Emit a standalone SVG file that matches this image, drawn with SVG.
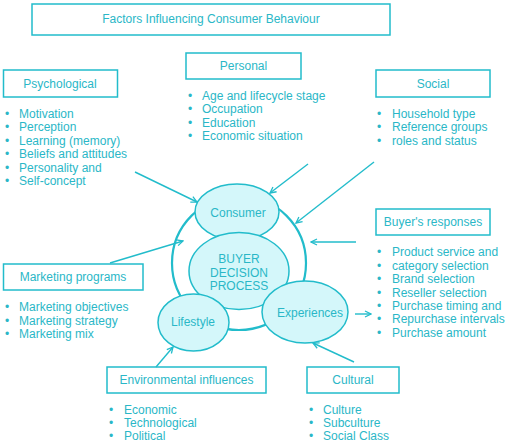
<svg xmlns="http://www.w3.org/2000/svg" width="506" height="443" viewBox="0 0 506 443">
<defs>
<style>
.box{fill:#ffffff;stroke:#22bccb;stroke-width:1.5}
.ell{fill:#d4f7fa;stroke:#22bccb;stroke-width:1.5}
.ring{fill:none;stroke:#22bccb;stroke-width:2.2}
.t{font-family:"Liberation Sans",Arial,sans-serif;font-size:12px;fill:#2ab7c7}
.c{text-anchor:middle}
.con{stroke:#22bccb;stroke-width:1.4;fill:none;marker-end:url(#ah)}
</style>
<marker id="ah" viewBox="0 0 8 8" refX="7" refY="4" markerWidth="8" markerHeight="8" markerUnits="userSpaceOnUse" orient="auto">
<path d="M1,1 L7,4 L1,7" fill="none" stroke="#22bccb" stroke-width="1.3"/>
</marker>
</defs>
<rect width="506" height="443" fill="#ffffff"/>

<g id="title">
<rect class="box" x="32" y="4" width="358" height="31"/>
<text class="t c" x="211" y="23">Factors Influencing Consumer Behaviour</text>
</g>

<g id="psychological">
<rect class="box" x="3.5" y="70" width="114" height="27"/>
<text class="t c" x="60" y="88">Psychological</text>
<text class="t" x="5" y="118">•</text><text class="t" x="19" y="118">Motivation</text>
<text class="t" x="5" y="131">•</text><text class="t" x="19" y="131">Perception</text>
<text class="t" x="5" y="145">•</text><text class="t" x="19" y="145">Learning (memory)</text>
<text class="t" x="5" y="158">•</text><text class="t" x="19" y="158">Beliefs and attitudes</text>
<text class="t" x="5" y="172">•</text><text class="t" x="19" y="172">Personality and</text>
<text class="t" x="5" y="185">•</text><text class="t" x="19" y="185">Self-concept</text>
</g>

<g id="personal">
<rect class="box" x="186" y="53" width="115" height="26"/>
<text class="t c" x="243.5" y="70">Personal</text>
<text class="t" x="188" y="100">•</text><text class="t" x="202" y="100">Age and lifecycle stage</text>
<text class="t" x="188" y="113">•</text><text class="t" x="202" y="113">Occupation</text>
<text class="t" x="188" y="127">•</text><text class="t" x="202" y="127">Education</text>
<text class="t" x="188" y="140">•</text><text class="t" x="202" y="140">Economic situation</text>
</g>

<g id="social">
<rect class="box" x="376" y="70" width="114" height="27"/>
<text class="t c" x="433" y="88">Social</text>
<text class="t" x="377" y="118">•</text><text class="t" x="392" y="118">Household type</text>
<text class="t" x="377" y="131">•</text><text class="t" x="392" y="131">Reference groups</text>
<text class="t" x="377" y="145">•</text><text class="t" x="392" y="145">roles and status</text>
</g>

<g id="buyers-responses">
<rect class="box" x="376" y="209" width="114" height="26"/>
<text class="t c" x="433" y="226">Buyer's responses</text>
<text class="t" x="377" y="256">•</text><text class="t" x="392" y="256">Product service and</text>
<text class="t" x="377" y="270">•</text><text class="t" x="392" y="270">category selection</text>
<text class="t" x="377" y="283">•</text><text class="t" x="392" y="283">Brand selection</text>
<text class="t" x="377" y="297">•</text><text class="t" x="392" y="297">Reseller selection</text>
<text class="t" x="377" y="310">•</text><text class="t" x="392" y="310">Purchase timing and</text>
<text class="t" x="377" y="323">•</text><text class="t" x="392" y="323">Repurchase intervals</text>
<text class="t" x="377" y="337">•</text><text class="t" x="392" y="337">Purchase amount</text>
</g>

<g id="marketing-programs">
<rect class="box" x="3.5" y="264" width="139.5" height="26"/>
<text class="t c" x="73" y="281">Marketing programs</text>
<text class="t" x="5" y="311">•</text><text class="t" x="19" y="311">Marketing objectives</text>
<text class="t" x="5" y="325">•</text><text class="t" x="19" y="325">Marketing strategy</text>
<text class="t" x="5" y="338">•</text><text class="t" x="19" y="338">Marketing mix</text>
</g>

<g id="environmental-influences">
<rect class="box" x="107" y="367" width="159" height="26"/>
<text class="t c" x="186.5" y="384">Environmental influences</text>
<text class="t" x="109" y="414">•</text><text class="t" x="124" y="414">Economic</text>
<text class="t" x="109" y="427">•</text><text class="t" x="124" y="427">Technological</text>
<text class="t" x="109" y="440">•</text><text class="t" x="124" y="440">Political</text>
</g>

<g id="cultural">
<rect class="box" x="307" y="367" width="92" height="26"/>
<text class="t c" x="353" y="384">Cultural</text>
<text class="t" x="309" y="414">•</text><text class="t" x="323" y="414">Culture</text>
<text class="t" x="309" y="427">•</text><text class="t" x="323" y="427">Subculture</text>
<text class="t" x="309" y="440">•</text><text class="t" x="323" y="440">Social Class</text>
</g>

<g id="ring">
<circle class="ring" cx="239" cy="263" r="67"/>
</g>

<g id="consumer">
<ellipse class="ell" cx="237" cy="212" rx="42" ry="28"/>
<text class="t c" x="238" y="217">Consumer</text>
</g>

<g id="buyer-decision-process">
<ellipse class="ell" cx="239" cy="271" rx="50" ry="38.5"/>
<text class="t c" x="239" y="263">BUYER</text>
<text class="t c" x="239" y="277">DECISION</text>
<text class="t c" x="239" y="290">PROCESS</text>
</g>

<g id="lifestyle">
<ellipse class="ell" cx="193.5" cy="322.5" rx="35.5" ry="28.5"/>
<text class="t c" x="193" y="326">Lifestyle</text>
</g>

<g id="experiences">
<ellipse class="ell" cx="305" cy="312" rx="43" ry="31"/>
<text class="t c" x="310" y="317">Experiences</text>
</g>

<g id="connectors">
<line class="con" x1="135" y1="172" x2="197" y2="202"/>
<line class="con" x1="308" y1="164" x2="270" y2="193"/>
<line class="con" x1="374" y1="162" x2="296" y2="223"/>
<line class="con" x1="356" y1="242" x2="311" y2="242"/>
<line class="con" x1="110" y1="263" x2="183" y2="241"/>
<line class="con" x1="156" y1="367" x2="173" y2="347"/>
<line class="con" x1="354" y1="362" x2="313" y2="343"/>
<line class="con" x1="355" y1="314" x2="371" y2="314"/>
</g>
</svg>
